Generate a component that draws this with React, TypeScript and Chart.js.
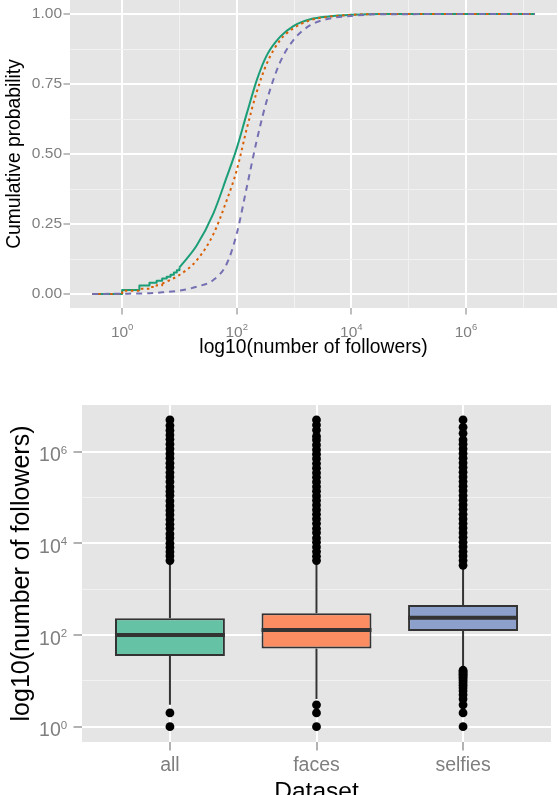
import React, { useEffect, useRef } from 'react';
import { Chart, registerables } from 'chart.js';

Chart.register(...registerables);

const FONT = "'Liberation Sans', Arial, Helvetica, sans-serif";
const PANEL_BG = '#E5E5E5';
const GRID_MAJOR = '#FFFFFF';
const GRID_MINOR = '#F2F2F2';
const AXIS_GREY = '#7F7F7F';
const BOX_LINE = '#333333';

// ---------- Top panel: ECDF of the number of followers ----------
// "all": integer steps for small counts, then the smooth part of the curve
const allStepFollowers = [0.3, 1, 2, 3, 4, 5, 6, 7, 8, 9, 10];
const allStepProb = [0, 0.014, 0.03, 0.04, 0.047, 0.055, 0.062, 0.069, 0.077, 0.085, 0.095];
const allCurveFollowers = [10, 20, 39, 67, 100, 150, 224, 336, 575, 977, 1930, 4000, 10000, 31600, 1.6e7];
const allCurveProb = [0.095, 0.173, 0.287, 0.418, 0.52, 0.645, 0.764, 0.853, 0.919, 0.957, 0.981, 0.991, 0.997, 1, 1];

// "faces"
const facesStepFollowers = [0.3, 1, 2, 3, 4, 5];
const facesStepProb = [0, 0.012, 0.019, 0.025, 0.031, 0.037];
const facesCurveFollowers = [5, 10, 20, 39, 67, 100, 150, 224, 336, 575, 977, 1930, 4000, 10000, 31600, 1.6e7];
const facesCurveProb = [0.037, 0.068, 0.12, 0.213, 0.335, 0.442, 0.591, 0.722, 0.824, 0.907, 0.949, 0.978, 0.99, 0.997, 1, 1];

// "selfies"
const selfiesFollowers = [0.3, 1, 3, 5, 10, 20, 39, 67, 100, 150, 224, 336, 575, 977, 1930, 4000, 10000, 31600, 1.6e7];
const selfiesProb = [0, 0.001, 0.003, 0.006, 0.012, 0.026, 0.05, 0.108, 0.215, 0.382, 0.549, 0.692, 0.829, 0.907, 0.96, 0.983, 0.993, 0.999, 1];

const followerTicksTop = [1, 10, 100, 1e3, 1e4, 1e5, 1e6, 1e7];
const probTicks = [0, 0.125, 0.25, 0.375, 0.5, 0.625, 0.75, 0.875, 1];

const ALL_LINE = '#1B9E77';
const FACES_LINE = '#D95F02';
const SELFIES_LINE = '#7570B3';

// ---------- Bottom panel: boxplots per dataset ----------
const datasetNames = ['all', 'faces', 'selfies'];
const boxQ1 = [35, 51, 122];
const boxMedian = [100, 128, 238];
const boxQ3 = [231, 297, 451];
const whiskerLow = [3, 4, 18];
const whiskerHigh = [3900, 4100, 3100];
const outliersAll = [
  1, 2,
  4200, 5300, 6500, 8100, 10000, 13000, 16000, 21000, 26000, 33000, 42000, 52000, 66000, 84000,
  110000, 135000, 170000, 220000, 280000, 350000, 450000, 560000, 720000, 900000, 1150000,
  1450000, 1850000, 2300000, 2900000, 3700000, 4900000,
];
const outliersFaces = [
  1, 2, 3,
  4200, 5200, 6600, 8300, 10500, 13000, 17000, 21000, 27000, 34000, 43000, 54000, 68000, 86000,
  108000, 137000, 172000, 218000, 275000, 345000, 435000, 550000, 700000, 880000, 1100000,
  1400000, 1800000, 2150000, 2950000, 3800000, 4900000,
];
const outliersSelfies = [
  1, 2, 3, 4, 5, 6, 7, 8, 9, 10, 11, 12, 13, 14, 15, 16, 17,
  3300, 4200, 5300, 6600, 8400, 10500, 13500, 17000, 21500, 27000, 34000, 43000, 55000, 69000,
  87000, 110000, 140000, 176000, 222000, 280000, 355000, 450000, 570000, 720000, 910000,
  1150000, 1450000, 1800000, 2500000, 3400000, 4900000,
];
const boxFill = ['#66C2A5', '#FC8D62', '#8DA0CB'];
const followerTicksBottom = [1, 10, 100, 1e3, 1e4, 1e5, 1e6];

// ---------- helpers ----------
const exponentOf = (v: number) => Math.round(Math.log10(v));
const isEvenPower = (v: number) => exponentOf(v) % 2 === 0;
const isQuarter = (v: number) => Math.abs(v * 4 - Math.round(v * 4)) < 1e-6;

const gridFor = (isMajor: (v: number) => boolean, tickLength: number, tickWidth: number) => ({
  color: (c: any) => (c.tick && isMajor(c.tick.value) ? GRID_MAJOR : GRID_MINOR),
  lineWidth: (c: any) => (c.tick && isMajor(c.tick.value) ? 2 : 1),
  tickColor: (c: any) => (c.tick && isMajor(c.tick.value) ? AXIS_GREY : 'rgba(0,0,0,0)'),
  tickLength,
  tickWidth,
  drawTicks: true,
  offset: false,
});

const fixedThickness = (size: number) => (s: any) => {
  if (s.isHorizontal()) {
    s.height = size;
    s.paddingLeft = 0;
    s.paddingRight = 0;
  } else {
    s.width = size;
    s.paddingTop = 0;
    s.paddingBottom = 0;
  }
};

const setTicks = (values: number[]) => (s: any) => {
  s.ticks = values.map((value) => ({ value }));
};

const panelBackground = {
  id: 'panelBackground',
  beforeDraw(chart: any) {
    const { ctx, chartArea: a } = chart;
    ctx.save();
    ctx.fillStyle = PANEL_BG;
    ctx.fillRect(a.left, a.top, a.right - a.left, a.bottom - a.top);
    ctx.restore();
  },
};

// Tick labels of the form 10^n with a raised, smaller exponent
type PowerLabelStyle = {
  base: number; // font size of "10"
  sup: number; // font size of the exponent
  raise: number; // how far the exponent baseline sits above the base baseline
  offset: number; // baseline below the axis top (x) or right edge inset (y)
  shift: number; // y axes: baseline below the tick
};
const powerTickLabels = (scaleId: string, values: number[], st: PowerLabelStyle) => ({
  id: 'powerTickLabels',
  afterDraw(chart: any) {
    const scale = chart.scales[scaleId];
    const { ctx } = chart;
    const baseFont = `${st.base}px ${FONT}`;
    const supFont = `${st.sup}px ${FONT}`;
    ctx.save();
    ctx.fillStyle = AXIS_GREY;
    ctx.textAlign = 'left';
    ctx.textBaseline = 'alphabetic';
    values.filter(isEvenPower).forEach((v) => {
      const p = scale.getPixelForValue(v);
      const exp = String(exponentOf(v));
      ctx.font = baseFont;
      const wb = ctx.measureText('10').width;
      ctx.font = supFont;
      const ws = ctx.measureText(exp).width;
      let x0: number;
      let y0: number;
      if (scale.isHorizontal()) {
        x0 = p - (wb + ws) / 2;
        y0 = scale.top + st.offset;
      } else {
        x0 = scale.right - st.offset - (wb + ws);
        y0 = p + st.shift;
      }
      ctx.font = baseFont;
      ctx.fillText('10', x0, y0);
      ctx.font = supFont;
      ctx.fillText(exp, x0 + wb, y0 - st.raise);
    });
    ctx.restore();
  },
});

const curve = (xs: number[], ys: number[], color: string, dash: number[], stepped: boolean) => ({
  data: xs.map((x, i) => ({ x, y: ys[i] })),
  borderColor: color,
  borderWidth: 2,
  borderDash: dash,
  borderCapStyle: 'butt',
  borderJoinStyle: 'round',
  pointRadius: 0,
  fill: false,
  stepped: stepped ? 'before' : false,
  cubicInterpolationMode: stepped ? 'default' : 'monotone',
});

function topConfig(): any {
  return {
    type: 'line',
    data: {
      datasets: [
        curve(selfiesFollowers, selfiesProb, SELFIES_LINE, [6, 5], false),
        curve(facesStepFollowers, facesStepProb, FACES_LINE, [2.5, 3.5], true),
        curve(facesCurveFollowers, facesCurveProb, FACES_LINE, [2.5, 3.5], false),
        curve(allStepFollowers, allStepProb, ALL_LINE, [], true),
        curve(allCurveFollowers, allCurveProb, ALL_LINE, [], false),
      ],
    },
    options: {
      responsive: false,
      animation: false,
      events: [],
      devicePixelRatio: 1,
      layout: { padding: { left: 0, right: 1, top: 0, bottom: 0 } },
      plugins: { legend: { display: false }, tooltip: { enabled: false } },
      scales: {
        x: {
          type: 'logarithmic',
          bounds: 'data',
          min: Math.pow(10, -0.91),
          max: Math.pow(10, 7.59),
          afterBuildTicks: setTicks(followerTicksTop),
          afterFit: fixedThickness(72),
          grid: gridFor(isEvenPower, 6.5, 1),
          border: { display: false },
          ticks: { display: false },
          title: {
            display: true,
            text: 'log10(number of followers)',
            color: '#000000',
            font: { family: FONT, size: 19.3 },
            padding: { top: 0, bottom: 20.4 },
          },
        },
        y: {
          type: 'linear',
          bounds: 'data',
          min: -0.05,
          max: 1.05,
          afterBuildTicks: setTicks(probTicks),
          afterFit: fixedThickness(70),
          grid: gridFor(isQuarter, 6.5, 1),
          border: { display: false },
          ticks: {
            autoSkip: false,
            padding: 1.5,
            color: AXIS_GREY,
            font: { family: FONT, size: 15.5 },
            callback: (v: number) => (isQuarter(v) ? v.toFixed(2) : ''),
          },
          title: {
            display: true,
            text: 'Cumulative probability',
            color: '#000000',
            font: { family: FONT, size: 19.3 },
            padding: { top: 3, bottom: 0 },
          },
        },
      },
    },
    plugins: [
      panelBackground,
      powerTickLabels('x', followerTicksTop, { base: 15.5, sup: 9.5, raise: 6.5, offset: 28.7, shift: 0 }),
    ],
  };
}

function bottomConfig(): any {
  const outlierPoints = [outliersAll, outliersFaces, outliersSelfies].flatMap((vals, i) =>
    vals.map((v) => ({ x: i + 1, y: v })),
  );
  return {
    type: 'bar',
    data: {
      datasets: [
        {
          type: 'bar',
          data: datasetNames.map((_, i) => ({ x: i + 1, y: [boxQ1[i], boxQ3[i]] })),
          backgroundColor: boxFill,
          borderColor: BOX_LINE,
          borderWidth: 2,
          borderSkipped: false,
          barPercentage: 0.75,
          categoryPercentage: 1,
        },
        {
          type: 'line',
          data: outlierPoints,
          showLine: false,
          pointRadius: 4.4,
          pointBorderWidth: 0,
          pointBackgroundColor: '#000000',
          pointBorderColor: '#000000',
        },
      ],
    },
    options: {
      responsive: false,
      animation: false,
      events: [],
      devicePixelRatio: 1,
      layout: { padding: { left: 0, right: 7, top: 25, bottom: 0 } },
      plugins: { legend: { display: false }, tooltip: { enabled: false } },
      scales: {
        x: {
          type: 'linear',
          bounds: 'data',
          offset: false,
          min: 0.4,
          max: 3.6,
          afterBuildTicks: setTicks(datasetNames.map((_, i) => i + 1)),
          afterFit: fixedThickness(78),
          grid: gridFor(() => true, 8.5, 1.2),
          border: { display: false },
          ticks: {
            autoSkip: false,
            maxRotation: 0,
            padding: 3,
            color: AXIS_GREY,
            font: { family: FONT, size: 19.5 },
            callback: (v: number) => datasetNames[Math.round(v) - 1] ?? '',
          },
          title: {
            display: true,
            text: 'Dataset',
            color: '#000000',
            font: { family: FONT, size: 24.5 },
            padding: { top: 0, bottom: 13 },
          },
        },
        y: {
          type: 'logarithmic',
          bounds: 'data',
          min: Math.pow(10, -0.334),
          max: Math.pow(10, 7.016),
          afterBuildTicks: setTicks(followerTicksBottom),
          afterFit: fixedThickness(82),
          grid: gridFor(isEvenPower, 8.5, 1.2),
          border: { display: false },
          ticks: { display: false },
          title: {
            display: true,
            text: 'log10(number of followers)',
            color: '#000000',
            font: { family: FONT, size: 25 },
            padding: { top: 7, bottom: 0 },
          },
        },
      },
    },
    plugins: [
      panelBackground,
      boxParts,
      powerTickLabels('y', followerTicksBottom, { base: 19.5, sup: 11.5, raise: 7.7, offset: 14.8, shift: 9.7 }),
    ],
  };
}

// Whiskers (under the boxes) and median bars (over the boxes)
const boxParts = {
  id: 'boxParts',
  beforeDatasetsDraw(chart: any) {
    const { ctx } = chart;
    const y = chart.scales.y;
    const bars = chart.getDatasetMeta(0).data;
    ctx.save();
    ctx.strokeStyle = BOX_LINE;
    ctx.lineWidth = 2;
    bars.forEach((bar: any, i: number) => {
      ctx.beginPath();
      ctx.moveTo(bar.x, y.getPixelForValue(whiskerLow[i]));
      ctx.lineTo(bar.x, y.getPixelForValue(boxQ1[i]));
      ctx.moveTo(bar.x, y.getPixelForValue(boxQ3[i]));
      ctx.lineTo(bar.x, y.getPixelForValue(whiskerHigh[i]));
      ctx.stroke();
    });
    ctx.restore();
  },
  afterDatasetsDraw(chart: any) {
    const { ctx } = chart;
    const y = chart.scales.y;
    const bars = chart.getDatasetMeta(0).data;
    ctx.save();
    ctx.strokeStyle = BOX_LINE;
    ctx.lineWidth = 4;
    bars.forEach((bar: any, i: number) => {
      const py = y.getPixelForValue(boxMedian[i]);
      ctx.beginPath();
      ctx.moveTo(bar.x - bar.width / 2, py);
      ctx.lineTo(bar.x + bar.width / 2, py);
      ctx.stroke();
    });
    ctx.restore();
  },
};

export default function App() {
  const topRef = useRef<HTMLCanvasElement>(null);
  const bottomRef = useRef<HTMLCanvasElement>(null);

  useEffect(() => {
    const top = new Chart(topRef.current as HTMLCanvasElement, topConfig());
    const bottom = new Chart(bottomRef.current as HTMLCanvasElement, bottomConfig());
    return () => {
      top.destroy();
      bottom.destroy();
    };
  }, []);

  return (
    <div
      style={{
        position: 'fixed',
        left: 0,
        top: 0,
        width: 558,
        height: 795,
        overflow: 'hidden',
        background: '#ffffff',
      }}
    >
      <canvas
        ref={topRef}
        width={558}
        height={380}
        style={{ position: 'absolute', left: 0, top: 0, width: 558, height: 380 }}
      />
      <canvas
        ref={bottomRef}
        width={558}
        height={440}
        style={{ position: 'absolute', left: 0, top: 380, width: 558, height: 440 }}
      />
    </div>
  );
}
